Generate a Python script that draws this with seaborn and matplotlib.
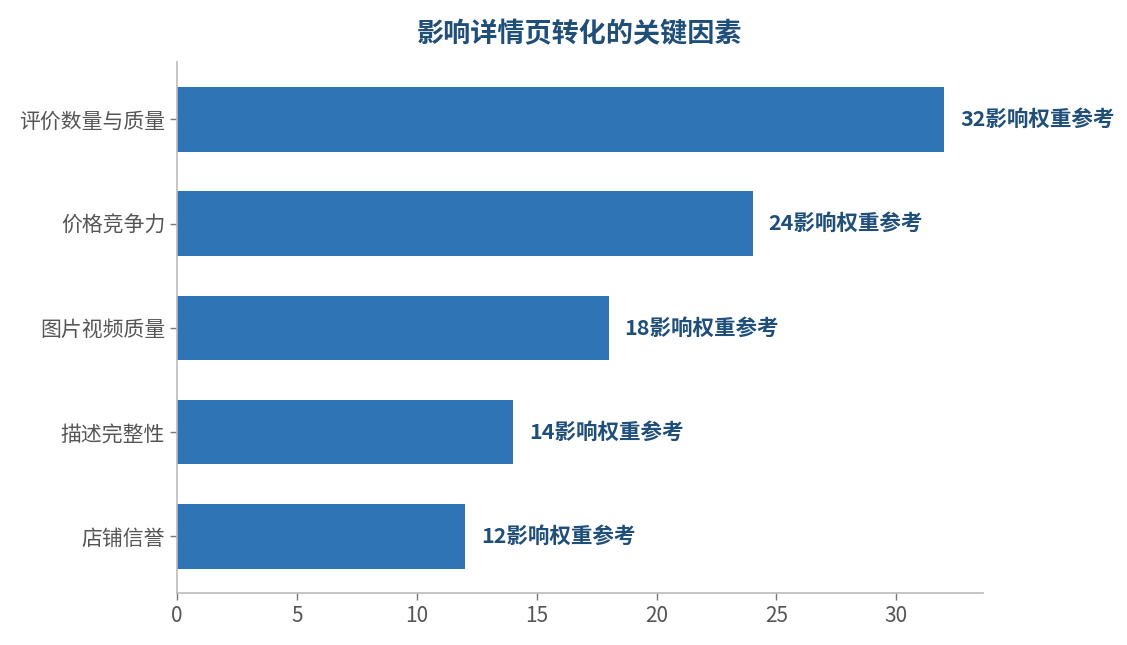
import pandas as pd
import matplotlib
matplotlib.use('Agg')
import matplotlib.pyplot as plt
import seaborn as sns

sns.set_style('white')
plt.rcParams['font.family'] = ['Noto Sans CJK SC', 'DejaVu Sans']
plt.rcParams['axes.unicode_minus'] = False

# data
factors = ['评价数量与质量', '价格竞争力', '图片视频质量', '描述完整性', '店铺信誉']
weights = [32, 24, 18, 14, 12]
label_suffix = '影响权重参考'

df = pd.DataFrame({'factor': factors, 'weight': weights})

fig = plt.figure(figsize=(11.27, 6.45), dpi=100)
ax = fig.add_axes([0.157, 0.081, 0.715, 0.823])

sns.barplot(data=df, x='weight', y='factor', orient='h', color='#2e75b6',
            saturation=1, width=0.62, linewidth=0, ax=ax)

for i, v in enumerate(weights):
    ax.text(v + 0.67, i, f'{v}{label_suffix}', va='center', ha='left',
            fontsize=15.5, fontweight='bold', color='#1f4e79')

ax.set_xlim(0, 33.6)
ax.set_ylim(4.54, -0.55)
ax.set_xlabel('')
ax.set_ylabel('')
ax.set_title('影响详情页转化的关键因素', fontsize=19.5, fontweight='bold',
             color='#1f4e79', pad=14)

for s in ['top', 'right']:
    ax.spines[s].set_visible(False)
for s in ['left', 'bottom']:
    ax.spines[s].set_color('#bbbbbb')
    ax.spines[s].set_linewidth(1.2)
ax.tick_params(axis='both', colors='#555555', labelsize=15, length=5,
               width=1, left=True, bottom=True)
ax.tick_params(axis='both', color='#777777')
ax.grid(False)

fig.savefig('out.png', dpi=100)
